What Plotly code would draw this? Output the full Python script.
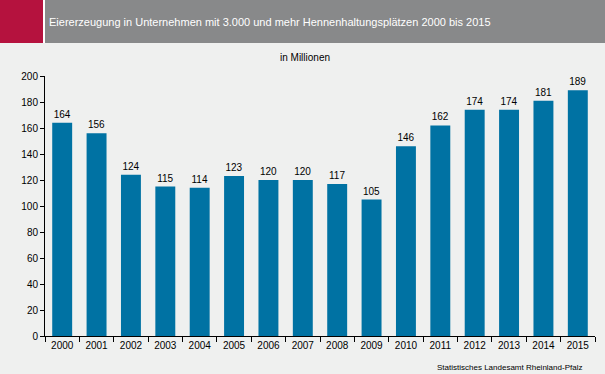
import plotly.graph_objects as go

years = ["2000","2001","2002","2003","2004","2005","2006","2007","2008","2009","2010","2011","2012","2013","2014","2015"]
values = [164,156,124,115,114,123,120,120,117,105,146,162,174,174,181,189]
y_ticks = [0,20,40,60,80,100,120,140,160,180,200]

title = "Eiererzeugung in Unternehmen mit 3.000 und mehr Hennenhaltungsplätzen 2000 bis 2015"
unit = "in Millionen"
source = "Statistisches Landesamt Rheinland-Pfalz"

W, H = 605, 374
L, R, T, B = 45, 10, 76, 38
PW, PH = W - L - R, H - T - B

def px(x):
    return (x - L) / PW

def py(y):
    return (H - B - y) / PH

bg = "#EFF0EF"
fig = go.Figure(go.Bar(
    x=years, y=values, marker_color="#0072A3", marker_line_width=0,
    text=[str(v) for v in values], textposition="outside", cliponaxis=False,
    textfont=dict(family="Liberation Sans, Arial", size=10, color="#000000"),
))
fig.update_layout(
    width=W, height=H, paper_bgcolor=bg, plot_bgcolor=bg,
    margin=dict(l=L, r=R, t=T, b=B),
    bargap=0.42, showlegend=False,
    font=dict(family="Liberation Sans, Arial", size=10, color="#000000"),
    shapes=[
        dict(type="rect", xref="paper", yref="paper", x0=px(0), x1=px(43), y0=py(43), y1=py(0),
             fillcolor="#B5123E", line_width=0, layer="below"),
        dict(type="rect", xref="paper", yref="paper", x0=px(43), x1=px(45), y0=py(43), y1=py(0),
             fillcolor="#FFFFFF", line_width=0, layer="below"),
        dict(type="rect", xref="paper", yref="paper", x0=px(45), x1=px(605), y0=py(43), y1=py(0),
             fillcolor="#88898A", line_width=0, layer="below"),
    ],
    annotations=[
        dict(text=title, xref="paper", yref="paper", x=px(47), y=py(22), xanchor="left", yanchor="middle",
             showarrow=False, font=dict(size=11, color="#FFFFFF")),
        dict(text=unit, xref="paper", yref="paper", x=px(305), y=py(57), xanchor="center", yanchor="middle",
             showarrow=False, font=dict(size=10)),
        dict(text=source, xref="paper", yref="paper", x=px(584), y=py(367), xanchor="right", yanchor="middle",
             showarrow=False, font=dict(size=8)),
    ],
)
fig.update_xaxes(type="category", tickson="boundaries", ticks="outside", ticklen=5, tickcolor="#000000",
                 showline=True, linecolor="#000000", linewidth=1, showgrid=False,
                 tickfont=dict(size=10))
fig.update_yaxes(range=[0,200], tickvals=y_ticks, ticks="outside", ticklen=4, tickcolor="#000000",
                 showline=True, linecolor="#000000", linewidth=1, showgrid=False, zeroline=False,
                 tickfont=dict(size=10))
fig.write_html("out.html", config={"displayModeBar": False},
               post_script="document.body.style.margin='0';document.body.style.overflow='hidden';")
